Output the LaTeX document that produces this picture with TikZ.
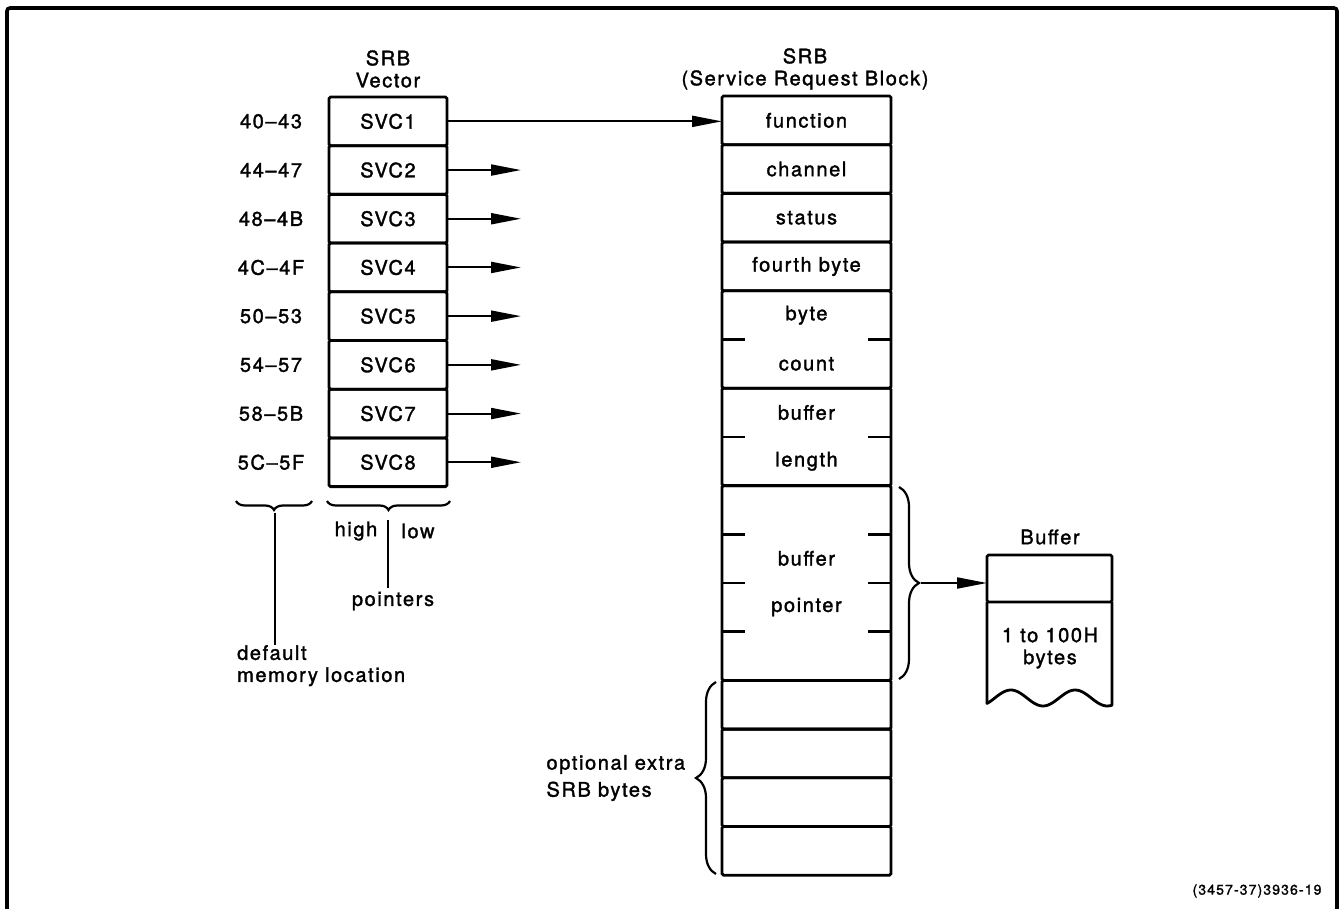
\documentclass[tikz,border=0pt]{standalone}
\usepackage{fontspec}
\setmainfont{TeX Gyre Heros}[LetterSpace=8, FakeBold=1.6]
\usetikzlibrary{arrows.meta, calc, decorations.pathreplacing}

\begin{document}
\begin{tikzpicture}[
    x=1pt, y=-1pt,
    font=\fontsize{20}{22}\selectfont,
    cell/.style={draw, line width=2.8pt, rounded corners=1.5pt, outer sep=0pt, inner sep=0pt, minimum height=#1},
    cell/.default=48.7pt,
    vcell/.style={cell, minimum width=118pt},
    scell/.style={cell=#1, minimum width=169pt},
    scell/.default=48.7pt,
    ptr/.style={-{Triangle[length=30pt, width=11pt]}, line width=2pt},
    halftick/.style={line width=2.8pt},
    curly/.style={decorate, decoration={brace, amplitude=#1}, line width=2.2pt},
    lead/.style={line width=2pt},
]
\useasboundingbox (0,0) rectangle (1342,909);

% Outer frame (open at the bottom)
\draw[line width=3.6pt, rounded corners=3pt] (7,909) -- (7,8) -- (1337,8) -- (1337,909);

% SRB vector
\node[align=center] (vtitle) at (388,69) {SRB\\Vector};
\node[vcell] (v1) at (388,121.35) {SVC1};
\node[vcell] (v2) at (388,170.05) {SVC2};
\node[vcell] (v3) at (388,218.75) {SVC3};
\node[vcell] (v4) at (388,267.45) {SVC4};
\node[vcell] (v5) at (388,316.15) {SVC5};
\node[vcell] (v6) at (388,364.85) {SVC6};
\node[vcell] (v7) at (388,413.55) {SVC7};
\node[vcell] (v8) at (388,462.25) {SVC8};

% Default memory locations
\node (m40) at (271,121.35) {40--43};
\node (m44) at (271,170.05) {44--47};
\node (m48) at (271,218.75) {48--4B};
\node (m4C) at (271,267.45) {4C--4F};
\node (m50) at (271,316.15) {50--53};
\node (m54) at (271,364.85) {54--57};
\node (m58) at (271,413.55) {58--5B};
\node (m5C) at (271,462.25) {5C--5F};

% Pointers that lead off
\coordinate (vend) at (521,0);
\draw[ptr] (v2.east) -- (v2.east -| vend);
\draw[ptr] (v3.east) -- (v3.east -| vend);
\draw[ptr] (v4.east) -- (v4.east -| vend);
\draw[ptr] (v5.east) -- (v5.east -| vend);
\draw[ptr] (v6.east) -- (v6.east -| vend);
\draw[ptr] (v7.east) -- (v7.east -| vend);
\draw[ptr] (v8.east) -- (v8.east -| vend);

% Service request block
\node[align=center] (stitle) at (805,69) {SRB\\(Service Request Block)};
\node[scell] (f1) at (806.5,120.35) {function};
\node[scell] (f2) at (806.5,169.05) {channel};
\node[scell] (f3) at (806.5,217.75) {status};
\node[scell] (f4) at (806.5,266.45) {fourth byte};
\node[scell=97.4pt] (f5) at (806.5,339.5) {};
\node[scell=97.4pt] (f6) at (806.5,436.9) {};
\node[scell=194.8pt] (f7) at (806.5,583) {};
\node[scell] (x1) at (806.5,704.75) {};
\node[scell] (x2) at (806.5,753.45) {};
\node[scell] (x3) at (806.5,802.15) {};
\node[scell] (x4) at (806.5,850.85) {};

\node (lbyte) at (806.5,315.15) {byte};
\node (lcount) at (806.5,363.85) {count};
\node (lbuf) at (806.5,412.55) {buffer};
\node (llen) at (806.5,461.25) {length};
\node (lbufp) at (806.5,558.35) {buffer};
\node (lptr) at (806.5,607.05) {pointer};

% Half-width byte marks
\draw[halftick] (f5.west) -- ++(23,0);
\draw[halftick] (f5.east) -- ++(-23,0);
\draw[halftick] (f6.west) -- ++(23,0);
\draw[halftick] (f6.east) -- ++(-23,0);
\draw[halftick] ($(f7.north west)!0.25!(f7.south west)$) -- ++(23,0);
\draw[halftick] ($(f7.north west)!0.5!(f7.south west)$) -- ++(23,0);
\draw[halftick] ($(f7.north west)!0.75!(f7.south west)$) -- ++(23,0);
\draw[halftick] ($(f7.north east)!0.25!(f7.south east)$) -- ++(-23,0);
\draw[halftick] ($(f7.north east)!0.5!(f7.south east)$) -- ++(-23,0);
\draw[halftick] ($(f7.north east)!0.75!(f7.south east)$) -- ++(-23,0);

% SVC1 -> SRB
\draw[ptr] (v1.east) -- (v1.east -| f1.west);

% Braces under the vector
\draw[curly=9pt] (312,501) -- (236,501);
\draw[curly=9pt] (450,501) -- (327,501);
\coordinate (memtip) at (275,513);
\coordinate (ptrtop) at (388,520);
\node[align=left, anchor=north west, inner sep=0pt] (memlbl) at (237,645) {default\\memory location};
\draw[lead] (memtip) -- (memtip |- memlbl.north);
\node (lhigh) at (356,531) {high};
\node (llow) at (418,531) {low};
\node (lpointers) at (393,601) {pointers};
\draw[lead] (ptrtop) -- (ptrtop |- lpointers.north);

% Buffer pointer -> buffer
\draw[curly=20pt] (899,487) -- (899,679);
\coordinate (bptip) at (921,583);
\node (buftitle) at (1050,537) {Buffer};
\node[cell=47pt, minimum width=125pt] (b1) at (1049.5,578.5) {};
\draw[line width=2.8pt, line join=round] (b1.south west) -- plot[domain=0:125, samples=60] ({987+\x},{698+8*cos(5.6*(\x-56))}) -- (b1.south east);
\node[align=center] (bbody) at (1050,648) {1 to 100H\\bytes};
\draw[ptr] (bptip) -- (bptip -| b1.west);

% Optional extra bytes
\draw[curly=20pt] (716,874) -- (716,682);
\node[align=left, anchor=west] (xlbl) at (543,778) {optional extra\\[5pt]SRB bytes};

\node[font=\fontsize{14}{16}\selectfont] (fig) at (1257,891) {(3457-37)3936-19};

\end{tikzpicture}
\end{document}
